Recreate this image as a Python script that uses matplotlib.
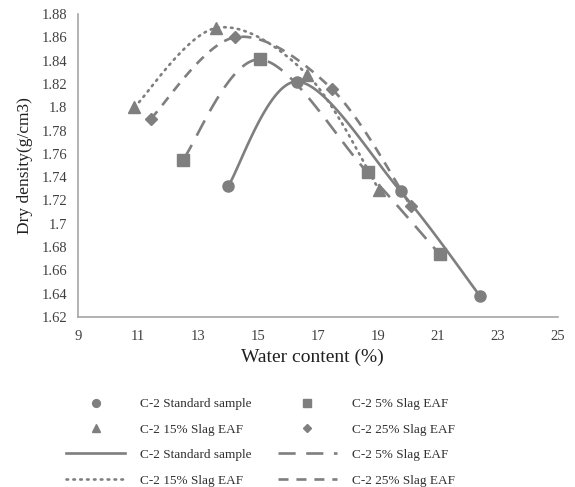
import matplotlib
matplotlib.use("Agg")
import matplotlib.pyplot as plt
import numpy as np

# Datos
w_std = [14.0, 16.3, 19.75, 22.4]
d_std = [1.732, 1.822, 1.728, 1.638]
w_5 = [12.5, 15.07, 18.65, 21.05]
d_5 = [1.755, 1.841, 1.744, 1.674]
w_15 = [10.88, 13.6, 16.64, 19.04]
d_15 = [1.800, 1.868, 1.828, 1.729]
w_25 = [11.42, 14.23, 17.45, 20.1]
d_25 = [1.790, 1.860, 1.816, 1.715]

labels = ["C-2 Standard sample", "C-2 5% Slag EAF", "C-2 15% Slag EAF", "C-2 25% Slag EAF"]

gris = "#7f7f7f"
plt.rcParams["font.family"] = ["Liberation Serif", "DejaVu Serif"]


def suavizar(xs, ys, sx=30.0, sy=303 / 0.26, n=40):
    # Curva suavizada tipo Excel (Bezier con puntos de control Catmull-Rom)
    p = np.column_stack([np.array(xs) * sx, np.array(ys) * sy])
    pts = np.vstack([p[0], p, p[-1]])
    out = []
    t = np.linspace(0, 1, n)[:, None]
    for i in range(1, len(pts) - 2):
        p0, p1, p2, p3 = pts[i - 1], pts[i], pts[i + 1], pts[i + 2]
        c1 = p1 + (p2 - p0) / 6
        c2 = p2 - (p3 - p1) / 6
        seg = ((1 - t) ** 3) * p1 + 3 * ((1 - t) ** 2) * t * c1 + 3 * (1 - t) * t ** 2 * c2 + t ** 3 * p2
        out.append(seg)
    c = np.vstack(out)
    return c[:, 0] / sx, c[:, 1] / sy


fig = plt.figure(figsize=(5.75, 4.87), dpi=100)
ax = fig.add_axes([78 / 575, 1 - 317 / 487, 480 / 575, 303 / 487])

series = [(w_std, d_std), (w_5, d_5), (w_15, d_15), (w_25, d_25)]
marcadores = ["o", "s", "^", "D"]
tamanos = [8, 8.5, 8.5, 6.5]
punteado = (0, (0.6, 2.0))
estilos = ["-", (0, (6.5, 4)), punteado, (0, (3.8, 3))]

handles_m = []
handles_l = []
for (x, y), m, ms, ls, lab in zip(series, marcadores, tamanos, estilos, labels):
    cx, cy = suavizar(x, y)
    (hl,) = ax.plot(cx, cy, color=gris, lw=1.9, linestyle=ls,
                    dash_capstyle="round" if ls == punteado else "butt", label=lab)
    (hm,) = ax.plot(x, y, color=gris, marker=m, ms=ms, linestyle="none", label=lab)
    handles_m.append(hm)
    handles_l.append(hl)

ax.set_xlim(9, 25)
ax.set_ylim(1.62, 1.88)
ax.set_xticks(np.arange(9, 26, 2))
ax.set_yticks(np.arange(1.62, 1.881, 0.02))
ax.set_yticklabels(["%g" % round(v, 2) for v in np.arange(1.62, 1.881, 0.02)])
ax.tick_params(length=0, labelsize=10.5, colors="#404040", pad=8)
ax.tick_params(axis="x", pad=9)
for s in ["top", "right"]:
    ax.spines[s].set_visible(False)
for s in ["left", "bottom"]:
    ax.spines[s].set_color("#a6a6a6")
    ax.spines[s].set_linewidth(1.2)

ax.set_xlabel("Water content (%)", fontsize=14, color="#202020", labelpad=4)
ax.xaxis.set_label_coords(0.489, -0.105)
ax.set_ylabel("Dry density(g/cm3)", fontsize=12.5, color="#202020", labelpad=6)

# Leyenda: columna izquierda y derecha
orden = [handles_m[0], handles_m[2], handles_l[0], handles_l[2],
         handles_m[1], handles_m[3], handles_l[1], handles_l[3]]
fig.legend(handles=orden, labels=[h.get_label() for h in orden], ncol=2,
           loc="upper left", bbox_to_anchor=(66 / 575, 1 - 398 / 487), frameon=False,
           borderpad=0, borderaxespad=0, markerscale=0.7,
           fontsize=9.5, handlelength=4.5, columnspacing=2.0, labelspacing=1.0,
           handletextpad=1.1, labelcolor="#303030")

fig.savefig("out.png", dpi=100)
